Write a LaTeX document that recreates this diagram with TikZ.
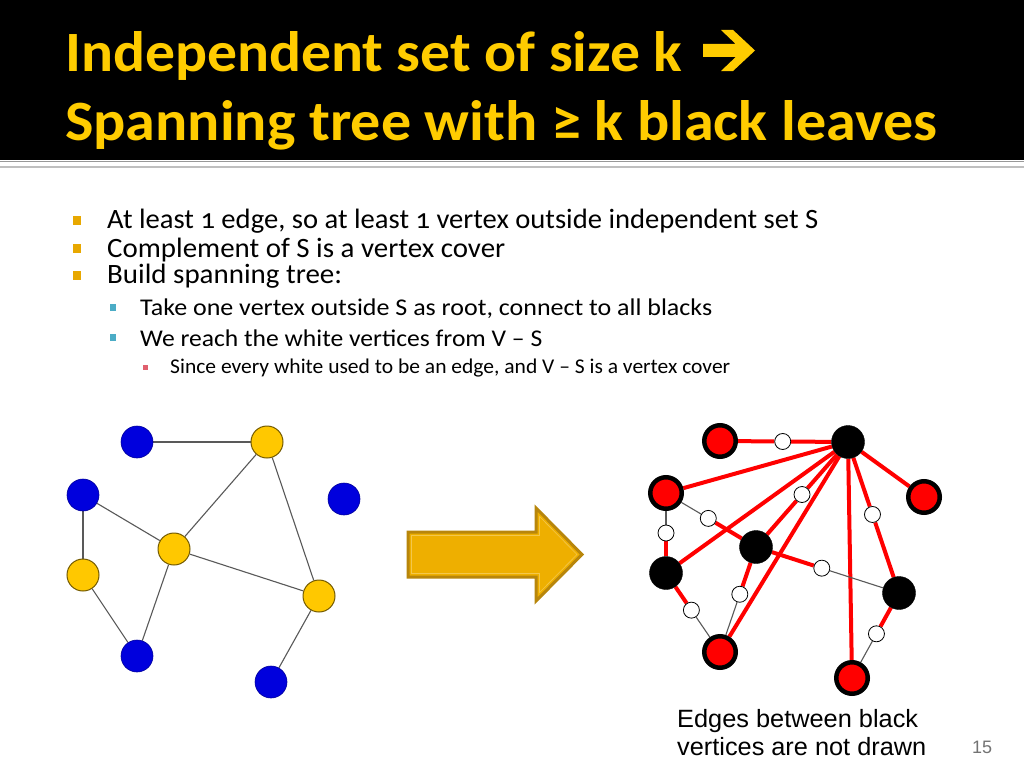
\documentclass[tikz,border=0pt]{standalone}
\usepackage{fontspec}
\usepackage{graphicx}
\setmainfont{Carlito}
\newfontfamily\bodyfont[Numbers=OldStyle]{Carlito}
\newfontfamily\capfont{Liberation Sans}
\usetikzlibrary{calc}
\newcommand\fitto[2]{\resizebox{#1}{\height}{#2}}
\definecolor{titlegold}{HTML}{FFCC00}
\definecolor{bulA}{HTML}{E8A800}
\definecolor{bulB}{HTML}{4BACC6}
\definecolor{bulC}{HTML}{E0606E}
\definecolor{nodeblue}{HTML}{0000DD}
\definecolor{nodeyellow}{HTML}{FFC800}
\definecolor{arrowfill}{HTML}{EEAF00}
\definecolor{arrowdraw}{HTML}{B8860B}
\pgfdeclarelayer{edgelayer}
\pgfsetlayers{edgelayer,main}
\tikzset{
  bnode/.style={circle, inner sep=0, minimum size=32pt, fill=nodeblue, draw=nodeblue!70!black, line width=0.6pt},
  ynode/.style={circle, inner sep=0, minimum size=32pt, fill=nodeyellow, draw=nodeyellow!45!black, line width=1pt},
  rnode/.style={circle, inner sep=0, minimum size=31.5pt, fill=red, draw=black, line width=4.5pt},
  knode/.style={circle, inner sep=0, minimum size=33pt, fill=black, draw=black},
  wnode/.style={circle, inner sep=0, minimum size=16pt, fill=white, draw=black, line width=0.8pt},
  gedge/.style={draw=black!65, line width=1.1pt},
  redge/.style={draw=red, line width=4pt},
  bulletA/.style={rectangle, inner sep=0, minimum width=8pt, minimum height=9pt, fill=bulA},
  bulletB/.style={rectangle, inner sep=0, minimum width=6pt, minimum height=7pt, fill=bulB},
  bulletC/.style={rectangle, inner sep=0, minimum width=5pt, minimum height=5pt, fill=bulC},
  txt/.style={anchor=base west, inner sep=0, text=black},
}
\begin{document}
\begin{tikzpicture}[x=1pt,y=-1pt]
\begin{pgfonlayer}{edgelayer}
  \fill[white] (0,0) rectangle (1024,768);
\end{pgfonlayer}
\useasboundingbox (0,0) rectangle (1024,768);
% title bar
\fill[black] (0,0) rectangle (1024,160);
\draw[black!40, line width=1.2pt] (0,161.5) -- (1024,161.5);
\draw[black!25, line width=2pt] (0,166.5) -- (1024,166.5);
\node[txt, text=titlegold, font=\fontsize{57}{60}\selectfont\bfseries] (t1) at (65,72) {\fitto{617pt}{Independent set of size k}};
\fill[titlegold] (703,44) -- (735.7,44) -- (721,30) -- (733,30) -- (755,50.5) -- (733,71) -- (721,71) -- (735.7,57) -- (703,57) -- cycle;
\node[txt, text=titlegold, font=\fontsize{57}{60}\selectfont\bfseries] (t2) at (65,140) {\fitto{872pt}{Spanning tree with ≥ k black leaves}};
% bullets
\node[bulletA] (ba1) at (77,220) {};
\node[bulletA] (ba2) at (77,248) {};
\node[bulletA] (ba3) at (77,275) {};
\node[bulletB] (bb1) at (113,307) {};
\node[bulletB] (bb2) at (113,337) {};
\node[bulletC] (bc1) at (145,367) {};
\node[txt, font=\bodyfont\fontsize{28}{30}\selectfont] (l1) at (107,228) {\fitto{711pt}{At least 1 edge, so at least 1 vertex outside independent set S}};
\node[txt, font=\bodyfont\fontsize{28}{30}\selectfont] (l2) at (107,257) {\fitto{398pt}{Complement of S is a vertex cover}};
\node[txt, font=\bodyfont\fontsize{28}{30}\selectfont] (l3) at (107,283) {\fitto{235pt}{Build spanning tree:}};
\node[txt, font=\bodyfont\fontsize{24}{26}\selectfont] (s1) at (140,315) {\fitto{572pt}{Take one vertex outside S as root, connect to all blacks}};
\node[txt, font=\bodyfont\fontsize{24}{26}\selectfont] (s2) at (140,346) {\fitto{402pt}{We reach the white vertices from V – S}};
\node[txt, font=\bodyfont\fontsize{21}{23}\selectfont] (ss1) at (170,373) {\fitto{560pt}{Since every white used to be an edge, and V – S is a vertex cover}};
% left graph
\node[bnode] (bT) at (137,442) {};
\node[ynode] (yT) at (267,442) {};
\node[bnode] (bL) at (83,495) {};
\node[bnode] (bR) at (344,499) {};
\node[ynode] (yC) at (174,549) {};
\node[ynode] (yL) at (83,575) {};
\node[ynode] (yR) at (319,596) {};
\node[bnode] (bBL) at (137,656) {};
\node[bnode] (bBR) at (271,682) {};
\begin{pgfonlayer}{edgelayer}
  \draw[gedge] (bT) -- (yT);
  \draw[gedge] (yT) -- (yC);
  \draw[gedge] (yT) -- (yR);
  \draw[gedge] (bL) -- (yC);
  \draw[gedge] (bL) -- (yL);
  \draw[gedge] (yC) -- (yR);
  \draw[gedge] (yC) -- (bBL);
  \draw[gedge] (yL) -- (bBL);
  \draw[gedge] (yR) -- (bBR);
\end{pgfonlayer}
% big arrow
\filldraw[fill=arrowfill, draw=arrowdraw, line width=3pt, line join=miter]
  (408,532) -- (536,532) -- (536,508) -- (582,554.5) -- (536,601) -- (536,577) -- (408,577) -- cycle;
\draw[arrowfill!70!white, line width=0.6pt, line join=miter]
  (411.5,535.5) -- (539.5,535.5) -- (539.5,516.5) -- (577,554.5) -- (539.5,592.5) -- (539.5,573.5) -- (411.5,573.5) -- cycle;
% right graph
\node[rnode] (R1) at (720,441) {};
\node[knode] (B0) at (848,442) {};
\node[rnode] (R2) at (666,493) {};
\node[rnode] (R3) at (924,497) {};
\node[knode] (B1) at (756,547) {};
\node[knode] (B2) at (666,573) {};
\node[knode] (B3) at (899,593) {};
\node[rnode] (R4) at (720,652) {};
\node[rnode] (R5) at (852,678) {};
\node[wnode] (w1) at ($(R1)!0.49!(B0)$) {};
\node[wnode] (w2) at ($(B0)!0.50!(B1)$) {};
\node[wnode] (w3) at ($(B0)!0.48!(B3)$) {};
\node[wnode] (w4) at ($(R2)!0.47!(B1)$) {};
\node[wnode] (w5) at ($(R2)!0.50!(B2)$) {};
\node[wnode] (w6) at ($(B1)!0.46!(B3)$) {};
\node[wnode] (w7) at ($(B1)!0.45!(R4)$) {};
\node[wnode] (w8) at ($(B2)!0.47!(R4)$) {};
\node[wnode] (w9) at ($(B3)!0.48!(R5)$) {};
\begin{pgfonlayer}{edgelayer}
  \draw[redge] (R1) -- (w1);
  \draw[redge] (w1) -- (B0);
  \draw[redge] (B0) -- (R2);
  \draw[redge] (B0) -- (w2);
  \draw[redge] (w2) -- (B1);
  \draw[redge] (B0) -- (B2);
  \draw[redge] (B0) -- (R4);
  \draw[redge] (B0) -- (R5);
  \draw[redge] (B0) -- (R3);
  \draw[redge] (B0) -- (w3);
  \draw[redge] (w3) -- (B3);
  \draw[gedge] (R2) -- (w4);
  \draw[redge] (w4) -- (B1);
  \draw[gedge] (R2) -- (w5);
  \draw[redge] (w5) -- (B2);
  \draw[redge] (B1) -- (w6);
  \draw[gedge] (w6) -- (B3);
  \draw[redge] (B1) -- (w7);
  \draw[gedge] (w7) -- (R4);
  \draw[redge] (B2) -- (w8);
  \draw[gedge] (w8) -- (R4);
  \draw[redge] (B3) -- (w9);
  \draw[gedge] (w9) -- (R5);
\end{pgfonlayer}
% caption
\node[txt, font=\capfont\fontsize{25}{27}\selectfont] (c1) at (677,727) {\fitto{241pt}{Edges between black}};
\node[txt, font=\capfont\fontsize{25}{27}\selectfont] (c2) at (677,755) {\fitto{249pt}{vertices are not drawn}};
\node[txt, font=\capfont\fontsize{18}{20}\selectfont, text=black!55] (pg) at (972,753) {15};
\end{tikzpicture}
\end{document}
